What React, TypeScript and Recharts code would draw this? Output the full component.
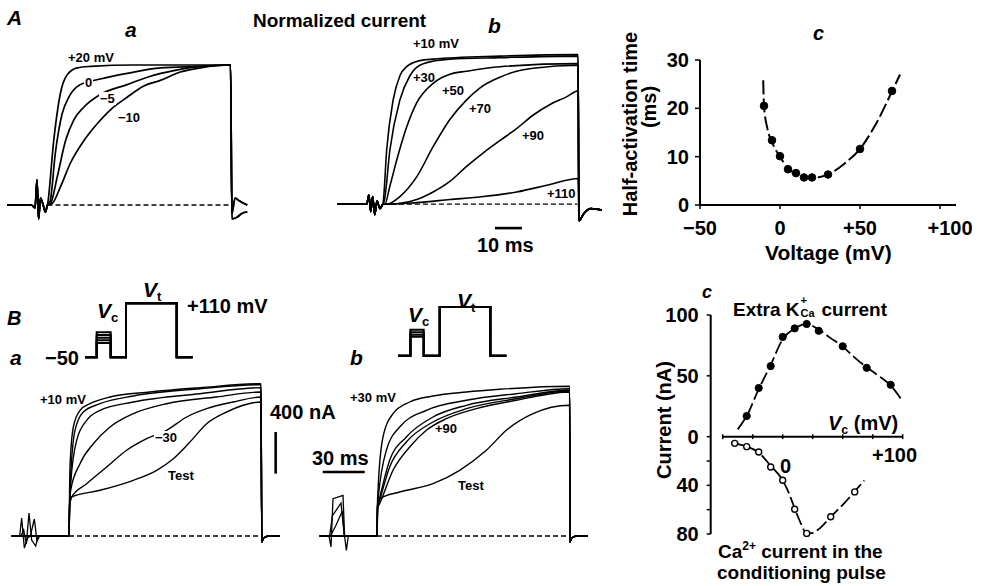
import React from "react"
import { ComposedChart, LineChart, Line, XAxis, YAxis, ReferenceLine } from "recharts"

const FF = '"Liberation Sans", Arial, Helvetica, sans-serif'

// ---- A a: normalized current, t (ms) vs I (0..1)
const aaPre = [[-15, 0], [-6, 0], [-4.6, -0.02], [-3.9, 0.18], [-3.3, -0.1], [-2.6, 0.05], [-1.6, 0], [-0.8, -0.05], [0, 0]]
const aa20 = [[2.3, 0.46], [4.8, 0.8], [7.3, 0.93], [11, 0.98], [16, 0.99], [32, 1.0], [50, 1.0], [67.8, 1.0]]
const aa0 = [[1, 0.03], [2.9, 0.37], [5.4, 0.65], [7.9, 0.77], [12.2, 0.86], [19.6, 0.9], [29.5, 0.94], [41.8, 0.98], [56.7, 0.99], [67.8, 1.0]]
const aaM5 = [[1.1, 0.01], [3.6, 0.2], [6.7, 0.46], [9.8, 0.61], [13.5, 0.7], [19.6, 0.79], [29.5, 0.86], [38.1, 0.92], [46.8, 0.96], [56.7, 0.99], [67.8, 1.0]]
const aaM10 = [[1.7, 0.01], [4.8, 0.13], [8.5, 0.3], [13.5, 0.46], [18.4, 0.58], [23.3, 0.68], [29.5, 0.77], [35.7, 0.85], [41.8, 0.89], [49.2, 0.95], [56.7, 0.98], [67.8, 1.0]]
const aaTailA = [[68.3, -0.06], [69.5, 0.05], [71, 0.03], [74, 0]]
const aaTailB = [[68.3, -0.1], [70, -0.09], [72, -0.06], [74, -0.05]]

// ---- A b
const abPre = [[-17, 0], [-6, 0], [-5.2, 0.06], [-4.5, -0.05], [-3.8, 0.05], [-3, -0.07], [-2.2, 0.02], [-1.1, -0.03], [0, 0]]
const ab10 = [[1.4, 0.36], [3.8, 0.69], [6.3, 0.85], [8.8, 0.91], [13.7, 0.95], [18.6, 0.96], [43.3, 0.98], [72.3, 0.99]]
const ab30 = [[0.5, 0.02], [2.6, 0.36], [6.3, 0.69], [10, 0.85], [14.9, 0.93], [24.8, 0.96], [43.3, 0.97], [72.3, 0.98]]
const ab50 = [[0.7, 0], [2.6, 0.12], [5.1, 0.29], [8.8, 0.51], [12.5, 0.67], [18.6, 0.8], [24.8, 0.86], [31, 0.88], [43.3, 0.91], [72.3, 0.93]]
const ab70 = [[1.4, 0], [6.3, 0.05], [12.5, 0.18], [18.6, 0.38], [24.8, 0.56], [31, 0.69], [36, 0.77], [43.3, 0.84], [49.5, 0.88], [55.7, 0.9], [72.3, 0.92]]
const ab90 = [[2.6, 0], [12.5, 0.03], [18.6, 0.08], [24.8, 0.15], [31, 0.25], [37.2, 0.34], [43.3, 0.42], [49.5, 0.5], [55.7, 0.59], [61.9, 0.66], [68, 0.71], [72.3, 0.75]]
const ab110 = [[2.6, 0], [12.5, 0.01], [24.8, 0.03], [37.2, 0.05], [49.5, 0.08], [61.9, 0.13], [72.3, 0.17]]
const abTail = [[72.6, -0.11], [74.5, -0.06], [77, -0.03], [81, -0.04]]

// ---- A c: half-activation time vs voltage
const halfV = [-10, -5, 0, 5, 10, 15, 20, 30, 50, 70]
const halfT = [20.5, 13.4, 10.1, 7.4, 6.6, 5.7, 5.7, 6.3, 11.6, 23.6]
const halfFitV = [-10.5, -10, -8, -5, 0, 5, 10, 15, 20, 25, 30, 40, 50, 60, 70, 75]
const halfFitT = [25.8, 20.5, 16, 13, 10, 7.6, 6.4, 5.8, 5.6, 5.8, 6.3, 8.5, 11.6, 16.8, 23.5, 27]
const halfXTicks = [-50, 0, 50, 100]
const halfYTicks = [0, 10, 20, 30]

// ---- B a: current (nA) vs t (ms)
const baCond1 = [[-43, 0], [-37, 0], [-35.5, 180], [-33.5, -120], [-31, -20], [-29, 0], [-26, 170], [-24, -50], [-22, 0], [0, 0]]
const baCond2 = [[-43, 0], [-36, 0], [-34, 60], [-32, -80], [-30, 230], [-28, -40], [-25, -100], [-23, 0], [0, 0]]
const baPre = [[-43, 0], [-1, 0], [0, 0]]
const ba10 = [[0.3, 300], [0.75, 690], [3.25, 1090], [8.25, 1257], [15.75, 1323], [30.75, 1390], [60.75, 1440], [98.25, 1483], [144, 1523]]
const ba2 = [[0.4, 300], [1.25, 590], [4.5, 1057], [10.75, 1240], [23.25, 1323], [48.25, 1400], [98.25, 1473], [144, 1513]]
const ba3 = [[0.4, 300], [1.25, 523], [5.75, 957], [13.25, 1157], [23.25, 1257], [48.25, 1340], [98.25, 1423], [144, 1483]]
const ba4 = [[0.5, 300], [1.25, 457], [8.25, 723], [18.25, 923], [30.75, 1090], [48.25, 1223], [73.25, 1323], [110.75, 1390], [144, 1440]]
const baM30 = [[0.5, 300], [2, 390], [13.25, 523], [28.25, 690], [43.25, 857], [58.25, 973], [73.25, 1057], [88.25, 1190], [103.25, 1273], [123.25, 1340], [144, 1390]]
const baTest = [[0.5, 300], [2, 390], [23.25, 457], [48.25, 557], [65.75, 657], [78.25, 773], [90.75, 940], [103.25, 1123], [118.25, 1240], [144, 1340]]
const bTail = [[144.6, -60], [146, -20], [150, 0], [158, 0]]

// ---- B b
const bbCond1 = [[-43, 0], [-36, 0], [-34.5, -110], [-33, 373], [-25.5, 407], [-24.3, 0], [-23, -143], [-21.5, 0], [0, 0]]
const bbCond2 = [[-43, 0], [-35.5, 0], [-33.5, 200], [-27, 330], [-24.5, 0], [-22, 0], [0, 0]]
const bbCond3 = [[-43, 0], [-35, 0], [-31, 100], [-26, 250], [-24.5, 0], [0, 0]]
const bbPre = [[-43, 0], [-1, 0], [0, 0]]
const bb30 = [[0.3, 300], [0.75, 457], [4.5, 990], [12, 1223], [24.5, 1340], [42, 1400], [67, 1440], [92, 1467], [144.5, 1497]]
const bb2 = [[0.4, 300], [1, 390], [7, 857], [17, 1090], [37, 1257], [67, 1357], [104.5, 1423], [144.5, 1473]]
const bb3 = [[0.4, 300], [1.5, 357], [9.5, 757], [22, 990], [42, 1190], [67, 1307], [104.5, 1390], [144.5, 1457]]
const bb4 = [[0.5, 300], [1.5, 340], [9.5, 690], [22, 940], [42, 1140], [67, 1273], [104.5, 1373], [144.5, 1450]]
const bb90 = [[0.5, 280], [2, 323], [12, 657], [24.5, 890], [37, 1057], [52, 1173], [74.5, 1273], [104.5, 1357], [144.5, 1440]]
const bbTest = [[0.5, 300], [2, 373], [17, 440], [42, 523], [62, 657], [82, 857], [97, 1057], [117, 1223], [144.5, 1307]]

// ---- voltage protocols (schematic time units)
const baProtT = [0, 11.7, 25.7, 41, 91.7, 107.7]
const baVc = [24, 16, 8, 0, -8]
const bbProtT = [0, 12.4, 25.7, 41.7, 92.4, 108.4]
const bbVc = [35, 27, 19, 12]
const holdV = -50
const testV = 110

// ---- B c: extra K(Ca) current and Ca current vs Vc
const kV = [-30, -20, -10, 0, 10, 20, 30, 50, 70, 90]
const kI = [17, 40, 58, 82, 89, 92.6, 87, 74.3, 56.6, 42.6]
const kFitV = [-37.5, -30, -20, -10, 0, 10, 20, 30, 40, 50, 60, 70, 80, 90, 100]
const kFitI = [6, 17, 39, 59, 80, 89, 92.5, 88, 81, 74, 65, 57, 50, 42, 29]
const caV = [-40, -30, -20, -10, 0, 10, 20, 40, 60]
const caI = [-5.5, -8.2, -12.6, -24.9, -35.8, -59.6, -79.5, -65.8, -45.4]
const caFitV = [-43, -40, -30, -20, -10, 0, 5, 10, 15, 20, 25, 30, 40, 50, 60, 68]
const caFitI = [-4.5, -5.5, -8, -13, -24, -36, -46, -59, -71, -79.6, -79, -76, -66, -56, -45, -36]
const vcTicks = [-50, -25, 0, 25, 50, 75, 100]
const curTicks = [-80, -60, -40, -20, 0, 50, 100]

const pairs = (a: number[][]) => a.map(([x, y]) => ({ x, y }))
const zip = (xs: number[], ys: number[]) => xs.map((x, i) => ({ x, y: ys[i] }))
const pulse = (T: number[], vc: number) => [
  [T[0], holdV], [T[1], holdV], [T[1], vc], [T[2], vc], [T[2], holdV],
  [T[3], holdV], [T[3], testV], [T[4], testV], [T[4], holdV], [T[5], holdV],
]
const signed = (v: number) => (v > 0 ? `+${v}` : v < 0 ? `\u2212${-v}` : "0")

function T({ x, y, s = 20, b = true, i = false, bg = false, children }: any) {
  return (
    <div
      style={{
        position: "absolute", left: x, top: y - 0.8465 * s, fontSize: s, lineHeight: `${s}px`,
        fontWeight: b ? 700 : 400, fontStyle: i ? "italic" : "normal", whiteSpace: "nowrap",
        background: bg ? "#fff" : "transparent", padding: bg ? "0 1px" : 0, marginLeft: bg ? -1 : 0,
      }}
    >
      {children}
    </div>
  )
}

function R({ cx, cy, s = 20, children }: any) {
  return (
    <div
      style={{
        position: "absolute", left: cx, top: cy, fontSize: s, lineHeight: 1, fontWeight: 700,
        whiteSpace: "nowrap", transform: "translate(-50%,-50%) rotate(-90deg)",
      }}
    >
      {children}
    </div>
  )
}

const Sub = ({ children }: any) => (
  <span style={{ fontSize: "0.62em", fontStyle: "normal", position: "relative", top: "0.3em", lineHeight: 0 }}>{children}</span>
)

function Traces({ left, top, width, height, xDomain, yDomain, traces, thin = [], base, bars = [], sw = 1.5 }: any) {
  return (
    <div style={{ position: "absolute", left, top, width, height }}>
      <LineChart width={width} height={height} margin={{ top: 0, right: 0, bottom: 0, left: 0 }}>
        <XAxis type="number" dataKey="x" domain={xDomain} hide allowDataOverflow height={0} />
        <YAxis type="number" domain={yDomain} hide allowDataOverflow width={0} />
        {base && (
          <ReferenceLine segment={[{ x: base[0], y: 0 }, { x: base[1], y: 0 }]} stroke="#000" strokeWidth={1.4} strokeDasharray="5 3" />
        )}
        {bars.map((s: any, k: number) => (
          <ReferenceLine key={`b${k}`} segment={s} stroke="#000" strokeWidth={2.6} />
        ))}
        {thin.map((tr: number[][], k: number) => (
          <Line key={`c${k}`} data={pairs(tr)} dataKey="y" type="linear" stroke="#000" strokeWidth={1.3} dot={false} isAnimationActive={false} />
        ))}
        {traces.map((tr: number[][], k: number) => (
          <Line key={`t${k}`} data={pairs(tr)} dataKey="y" type="monotone" stroke="#000" strokeWidth={sw} dot={false} isAnimationActive={false} />
        ))}
      </LineChart>
    </div>
  )
}

function Protocol({ left, top, width, height, times, levels }: any) {
  return (
    <div style={{ position: "absolute", left, top, width, height }}>
      <LineChart width={width} height={height} margin={{ top: 0, right: 0, bottom: 0, left: 0 }}>
        <XAxis type="number" dataKey="x" domain={[-2, 110]} hide allowDataOverflow height={0} />
        <YAxis type="number" domain={[-60, 120]} hide allowDataOverflow width={0} />
        {levels.map((vc: number, k: number) => (
          <Line key={k} data={pairs(pulse(times, vc))} dataKey="y" type="linear" stroke="#000" strokeWidth={2} dot={false} isAnimationActive={false} />
        ))}
      </LineChart>
    </div>
  )
}

const tickFont = { fill: "#000", fontSize: 20, fontWeight: 700, fontFamily: FF }

const HalfXTick = ({ x, y, payload }: any) => (
  <text x={x + (payload.value === 100 ? 10 : 0)} y={y} dy="0.71em" textAnchor="middle" {...tickFont}>
    {signed(payload.value)}
  </text>
)

function HalfChart() {
  return (
    <div style={{ position: "absolute", left: 600, top: 30, width: 386, height: 230 }}>
      <ComposedChart width={386} height={230} margin={{ top: 30, right: 30, bottom: 25, left: 60 }}>
        <XAxis
          type="number" dataKey="x" domain={[-50, 110]} ticks={halfXTicks} height={30}
          axisLine={{ stroke: "#000", strokeWidth: 2 }} tickLine={{ stroke: "#000", strokeWidth: 1.5 }}
          tickSize={4} tickMargin={12} tick={<HalfXTick />} interval={0}
        />
        <YAxis
          type="number" domain={[0, 30]} ticks={halfYTicks} width={40}
          axisLine={{ stroke: "#000", strokeWidth: 2 }} tickLine={{ stroke: "#000", strokeWidth: 1.5 }}
          tickSize={5} tickMargin={6} tick={tickFont} interval={0}
        />
        <Line data={zip(halfFitV, halfFitT)} dataKey="y" type="monotone" stroke="#000" strokeWidth={2} strokeDasharray="14 4" dot={false} isAnimationActive={false} />
        <Line data={zip(halfV, halfT)} dataKey="y" stroke="none" dot={{ r: 3.8, fill: "#000", stroke: "#000", strokeWidth: 1 }} isAnimationActive={false} />
      </ComposedChart>
    </div>
  )
}

function CurrentChart() {
  return (
    <div style={{ position: "absolute", left: 620, top: 290, width: 366, height: 296 }}>
      <ComposedChart width={366} height={296} margin={{ top: 25, right: 83.3, bottom: 52, left: 40.7 }}>
        <XAxis type="number" dataKey="x" domain={[-60, 100]} hide height={0} />
        <YAxis
          type="number" domain={[-80, 100]} ticks={curTicks} width={50} interval={0}
          tickFormatter={(v: number) => (v === -60 || v === -20 ? "" : String(Math.abs(v)))}
          axisLine={{ stroke: "#000", strokeWidth: 2 }} tickLine={{ stroke: "#000", strokeWidth: 1.5 }}
          tickSize={4} tickMargin={8} tick={tickFont}
        />
        <ReferenceLine segment={[{ x: -50, y: 0 }, { x: 100, y: 0 }]} stroke="#000" strokeWidth={2} />
        {vcTicks.map((v) => (
          <ReferenceLine key={v} segment={[{ x: v, y: -2 }, { x: v, y: 2 }]} stroke="#000" strokeWidth={1.5} />
        ))}
        <Line data={zip(kFitV, kFitI)} dataKey="y" type="monotone" stroke="#000" strokeWidth={1.8} strokeDasharray="13 4" dot={false} isAnimationActive={false} />
        <Line data={zip(caFitV, caFitI)} dataKey="y" type="monotone" stroke="#000" strokeWidth={1.8} strokeDasharray="13 4" dot={false} isAnimationActive={false} />
        <Line data={zip(kV, kI)} dataKey="y" stroke="none" dot={{ r: 3.6, fill: "#000", stroke: "#000", strokeWidth: 1 }} isAnimationActive={false} />
        <Line data={zip(caV, caI)} dataKey="y" stroke="none" dot={{ r: 3, fill: "#fff", stroke: "#000", strokeWidth: 1.4 }} isAnimationActive={false} />
      </ComposedChart>
    </div>
  )
}

export default function App() {
  const aaTraces = [
    [...aaPre, ...aa20, ...aaTailB],
    [...aaPre, ...aa0, ...aaTailA],
    [...aaPre, ...aaM5, ...aaTailA],
    [...aaPre, ...aaM10, ...aaTailB],
  ]
  const abTraces = [ab10, ab30, ab50, ab70, ab90, ab110].map((tr) => [...abPre, ...tr, ...abTail])
  const baTraces = [ba10, ba2, ba3, ba4, baM30, baTest].map((tr) => [...baPre, ...tr, ...bTail])
  const bbTraces = [bb30, bb2, bb3, bb4, bb90, bbTest].map((tr) => [...bbPre, ...tr, ...bTail])

  return (
    <div
      style={{
        position: "absolute", left: 0, top: 0, width: 986, height: 586, background: "#fff",
        overflow: "hidden", fontFamily: FF, color: "#000",
      }}
    >
      {/* A a */}
      <Traces left={6.5} top={51} width={243} height={182} xDomain={[-15, 75]} yDomain={[-0.2, 1.1]} traces={aaTraces} base={[0, 68]} sw={1.7} />
      {/* A b */}
      <Traces
        left={337.1} top={37.9} width={267.3} height={196.3} xDomain={[-17, 82]} yDomain={[-0.2, 1.1]}
        traces={abTraces} base={[0, 72]} sw={1.6}
        bars={[[{ x: 41.5, y: -0.159 }, { x: 51.5, y: -0.159 }]]}
      />
      {/* B a */}
      <Traces
        left={9} top={365.7} width={276} height={200} xDomain={[-45, 162]} yDomain={[-300, 1700]}
        traces={baTraces} thin={[baCond1, baCond2]} base={[0, 144]} sw={1.4}
        bars={[[{ x: 155, y: 624 }, { x: 155, y: 1040 }]]}
      />
      {/* B b */}
      <Traces
        left={317.3} top={365.7} width={276} height={200} xDomain={[-45, 162]} yDomain={[-300, 1700]}
        traces={bbTraces} thin={[bbCond1, bbCond2, bbCond3]} base={[0, 144]} sw={1.4}
        bars={[[{ x: -40.7, y: 640 }, { x: -9.2, y: 640 }]]}
      />
      <Protocol left={83} top={299.6} width={112} height={60.5} times={baProtT} levels={baVc} />
      <Protocol left={396.3} top={304.3} width={112} height={54.7} times={bbProtT} levels={bbVc} />
      <HalfChart />
      <CurrentChart />

      {/* A labels */}
      <T x={7} y={25} s={21} i>A</T>
      <T x={253} y={27} s={19}>Normalized current</T>
      <T x={125} y={37} s={21} i>a</T>
      <T x={68} y={62} s={13}>+20 mV</T>
      <T x={85} y={87} s={13} bg>0</T>
      <T x={100} y={103} s={13} bg>{"\u22125"}</T>
      <T x={118} y={122} s={13} bg>{"\u221210"}</T>
      <T x={488} y={33} s={21} i>b</T>
      <T x={413} y={48} s={13}>+10 mV</T>
      <T x={413} y={82} s={13}>+30</T>
      <T x={442} y={95} s={13}>+50</T>
      <T x={469} y={113} s={13}>+70</T>
      <T x={522} y={140} s={13}>+90</T>
      <T x={547} y={198} s={13}>+110</T>
      <T x={477} y={252} s={20}>10 ms</T>
      <T x={813} y={40} s={20} i>c</T>
      <R cx={630} cy={124}>Half-activation time</R>
      <R cx={649} cy={107}>(ms)</R>
      <T x={765} y={260} s={21}>Voltage (mV)</T>

      {/* B labels */}
      <T x={7} y={325} s={20} i>B</T>
      <T x={10} y={365} s={21} i>a</T>
      <T x={45} y={365} s={20}>{"\u221250"}</T>
      <T x={97} y={318} s={21}><i>V</i><Sub>c</Sub></T>
      <T x={143} y={297} s={21}><i>V</i><Sub>t</Sub></T>
      <T x={187} y={313} s={20}>+110 mV</T>
      <T x={40} y={404} s={13}>+10 mV</T>
      <T x={155} y={442} s={13} bg>{"\u221230"}</T>
      <T x={168} y={480} s={13}>Test</T>
      <T x={270} y={419} s={20}>400 nA</T>
      <T x={350} y={365} s={21} i>b</T>
      <T x={408} y={322} s={21}><i>V</i><Sub>c</Sub></T>
      <T x={457} y={308} s={21}><i>V</i><Sub>t</Sub></T>
      <T x={350} y={402} s={13}>+30 mV</T>
      <T x={435} y={433} s={13}>+90</T>
      <T x={458} y={490} s={13}>Test</T>
      <T x={312} y={465} s={20}>30 ms</T>

      {/* B c labels */}
      <T x={702} y={298} s={18} i>c</T>
      <T x={733} y={313} s={19}>
        Extra K
        <span style={{ position: "relative", display: "inline-block", width: 22, height: "1em" }}>
          <span style={{ position: "absolute", left: 1, top: -2, fontSize: 11, lineHeight: 1 }}>+</span>
          <span style={{ position: "absolute", left: 1, top: 11, fontSize: 11, lineHeight: 1 }}>Ca</span>
        </span>
        current
      </T>
      <T x={828} y={430} s={20}><i>V</i><Sub>c</Sub> (mV)</T>
      <T x={780} y={473} s={20}>0</T>
      <T x={872} y={462} s={20}>+100</T>
      <R cx={664} cy={420}>Current (nA)</R>
      <T x={718} y={558} s={19}>
        Ca<span style={{ fontSize: 12, position: "relative", top: -8, lineHeight: 0 }}>2+</span> current in the
      </T>
      <T x={717} y={579} s={19}>conditioning pulse</T>
    </div>
  )
}
